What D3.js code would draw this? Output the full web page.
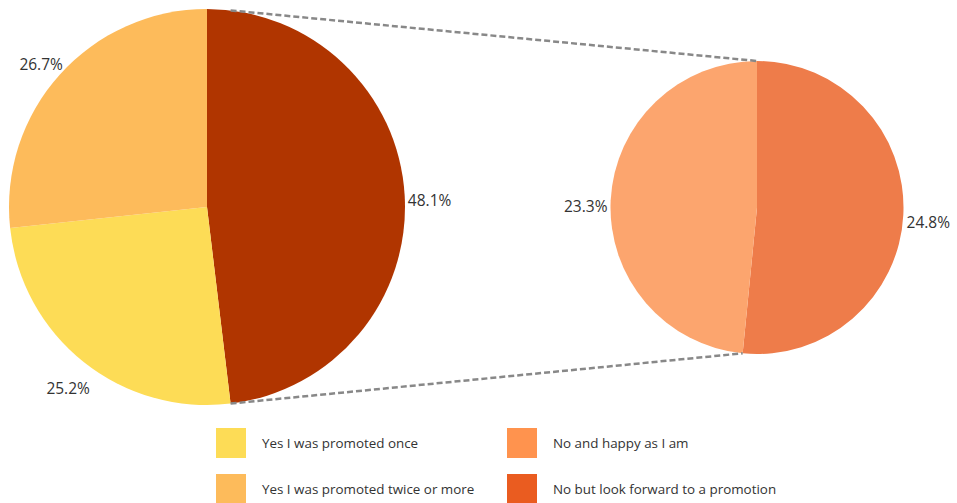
<!DOCTYPE html>
<html>
<head>
<meta charset="utf-8">
<script src="https://cdn.jsdelivr.net/npm/d3@7"></script>
<style>
	body { margin: 0; background: #fff; }
	svg { font-family: "Open Sans", sans-serif; }
</style>
</head>
<body>
<svg id="svg_main" width="957" height="503"></svg>
<script>
// main pie: the first slice is the "No" group that is split out on the right
const mainCats = ["No", "Yes I was promoted once", "Yes I was promoted twice or more"];
const mainValues = [48.1, 25.2, 26.7];
const mainColors = ["#B03500", "#FDDC56", "#FDBB5B"];

const subCats = ["No but look forward to a promotion", "No and happy as I am"];
const subValues = [24.8, 23.3];
const subColors = ["#EE7C4A", "#FCA56E"];

const legendCats = ["Yes I was promoted once", "Yes I was promoted twice or more",
	"No and happy as I am", "No but look forward to a promotion"];
const legendColors = ["#FDDC56", "#FDBB5B", "#FF934E", "#EA5C20"];

var svg = d3.select("#svg_main");

var main = { cx: 207, cy: 207, r: 198 },
	sub = { cx: 757, cy: 207.5, r: 146.5 };

var pie = d3.pie().sort(null).value(d => d);

function drawPie(p, values, colors) {
	var g = svg.append("g")
		.attr("transform", `translate(${p.cx}, ${p.cy})`);
	var arc = d3.arc().innerRadius(0).outerRadius(p.r);
	var arcs = pie(values);
	g.selectAll("path")
		.data(arcs)
		.enter().append("path")
		.attr("d", arc)
		.attr("fill", (d, i) => colors[i]);
	var lab = d3.arc().innerRadius(p.r + 25).outerRadius(p.r + 25);
	g.selectAll("text")
		.data(arcs)
		.enter().append("text")
		.attr("transform", d => {
			let c = lab.centroid(d);
			return `translate(${c[0]}, ${c[1] + 7})`;
		})
		.attr("text-anchor", "middle")
		.attr("dy", "0.35em")
		.attr("font-size", "15.5px")
		.attr("fill", "#333")
		.text(d => d.data.toFixed(1) + "%");
	return arcs;
}

var mainArcs = drawPie(main, mainValues, mainColors);
drawPie(sub, subValues, subColors);

// connector lines from the split slice to the second pie
var a = mainArcs[0].endAngle;
var bx = main.cx + main.r * Math.sin(a),
	by = main.cy - main.r * Math.cos(a),
	tx = bx,
	ty = main.cy + main.r * Math.cos(a);
var subEnd = pie(subValues)[0].endAngle;
var sbx = sub.cx + sub.r * Math.sin(subEnd),
	sby = sub.cy - sub.r * Math.cos(subEnd);

svg.append("line")
	.attr("x1", tx).attr("y1", ty)
	.attr("x2", sub.cx).attr("y2", sub.cy - sub.r)
	.attr("stroke", "#888").attr("stroke-width", 2.5)
	.attr("stroke-dasharray", "6,3");
svg.append("line")
	.attr("x1", bx).attr("y1", by)
	.attr("x2", sbx).attr("y2", sby)
	.attr("stroke", "#888").attr("stroke-width", 2.5)
	.attr("stroke-dasharray", "6,3");

// legend, two columns
var legend = svg.append("g").attr("class", "legend");
legendCats.forEach((c, i) => {
	var col = Math.floor(i / 2), row = i % 2;
	var x = 216 + col * 291, y = 428 + row * 46;
	legend.append("rect")
		.attr("x", x).attr("y", y)
		.attr("width", 30).attr("height", 30)
		.attr("fill", legendColors[i]);
	legend.append("text")
		.attr("x", x + 46).attr("y", y + 15)
		.attr("dy", "0.35em")
		.attr("font-size", "13.4px")
		.attr("fill", "#333")
		.text(c);
});
</script>
</body>
</html>
